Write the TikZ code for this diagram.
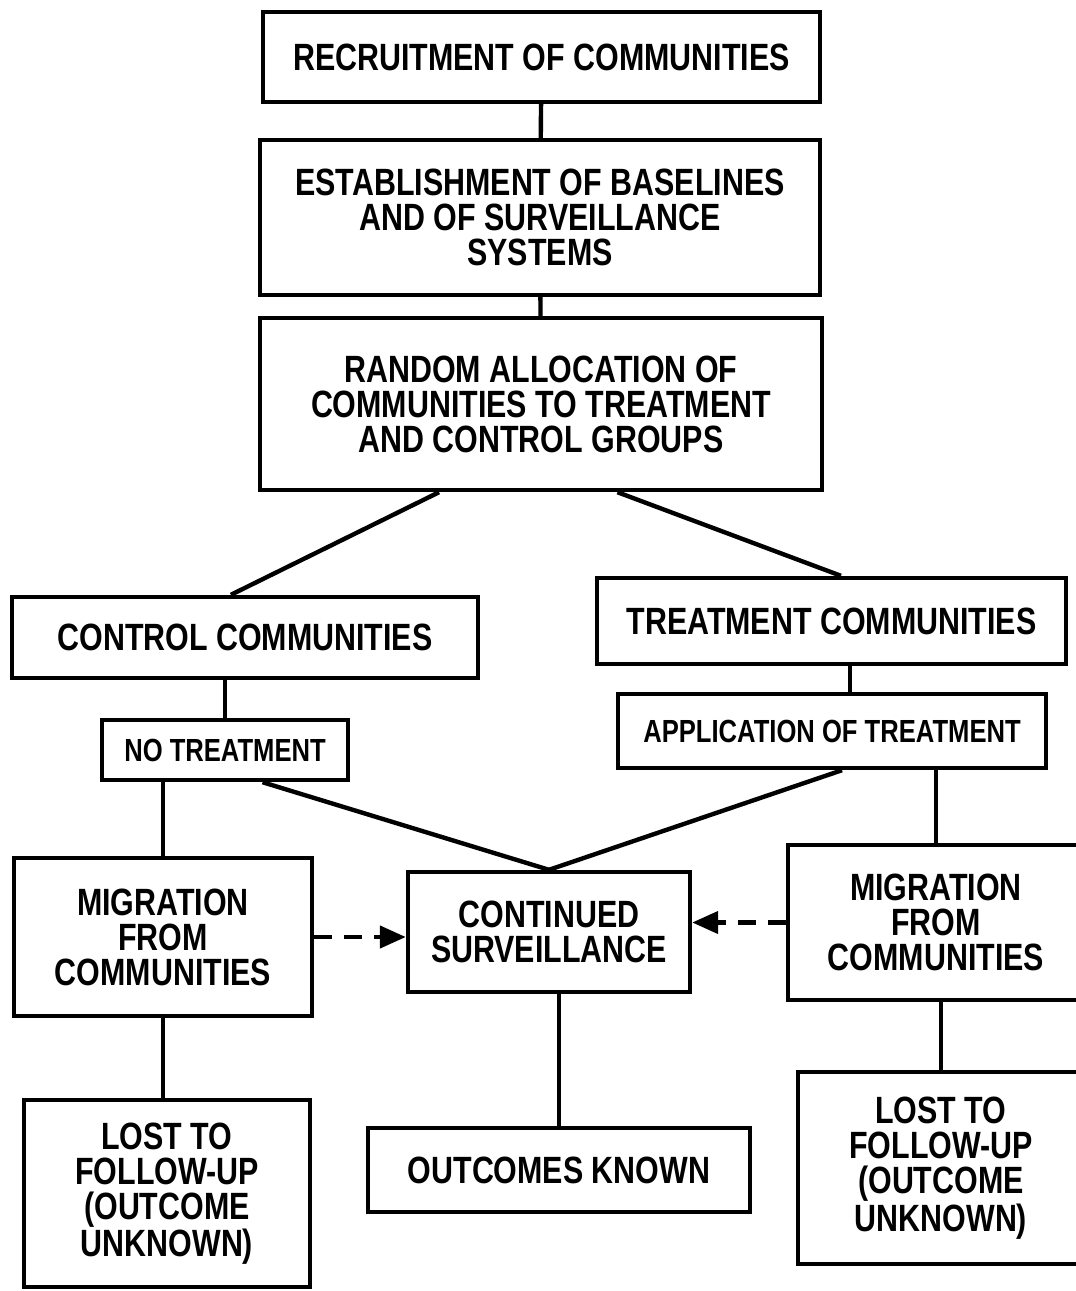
\documentclass[tikz,border=0pt]{standalone}
\usepackage{fontspec}
\usepackage{tikz}
\usetikzlibrary{calc,arrows.meta}
\newfontfamily\boxfont[FakeStretch=0.8]{Liberation Sans}

\tikzset{
  box/.style={draw,line width=2.2pt,align=center,inner sep=0pt,
    font=\boxfont\bfseries\fontsize{19pt}{17.5pt}\selectfont},
  smallbox/.style={box,font=\boxfont\bfseries\fontsize{16pt}{16pt}\selectfont},
  link/.style={line width=2.2pt},
  migrate/.style={line width=2.2pt,dash pattern=on 9pt off 6pt,
    -{Triangle[length=13pt,width=11pt]}}
}

\begin{document}
\begin{tikzpicture}[x=0.5pt,y=-0.5pt]
\useasboundingbox[fill=white] (0,0) rectangle (1076,1291);
\clip (0,0) rectangle (1076,1291);
\node (recruit) at (541.5,57) [box,minimum width=278.5pt,minimum height=45pt] {RECRUITMENT OF COMMUNITIES};
\node (establish) at (540,217.5) [box,minimum width=280pt,minimum height=77.5pt] {ESTABLISHMENT OF BASELINES\\AND OF SURVEILLANCE\\SYSTEMS};
\node (random) at (541,404) [box,minimum width=281pt,minimum height=86pt] {RANDOM ALLOCATION OF\\COMMUNITIES TO TREATMENT\\AND CONTROL GROUPS};
\node (control) at (245,637.5) [box,minimum width=233pt,minimum height=40.5pt] {CONTROL COMMUNITIES};
\node (treatment) at (831.5,621) [box,minimum width=234.5pt,minimum height=43pt] {TREATMENT COMMUNITIES};
\node (notreat) at (225,750) [smallbox,minimum width=123pt,minimum height=30pt] {NO TREATMENT};
\node (apply) at (832,731) [smallbox,minimum width=214pt,minimum height=37pt] {APPLICATION OF TREATMENT};
\node (migleft) at (163,937) [box,minimum width=149pt,minimum height=79pt] {MIGRATION\\FROM\\COMMUNITIES};
\node (surv) at (549,932) [box,minimum width=141pt,minimum height=60pt] {CONTINUED\\SURVEILLANCE};
\node (migright) at (936,922.5) [box,minimum width=148pt,minimum height=77.5pt] {MIGRATION\\FROM\\COMMUNITIES};
\node (lostleft) at (167,1193.5) [box,minimum width=143pt,minimum height=93.5pt] {LOST TO\\FOLLOW-UP\\(OUTCOME\\UNKNOWN)};
\node (outcomes) at (559,1170) [box,minimum width=191pt,minimum height=42pt] {OUTCOMES KNOWN};
\node (lostright) at (941,1168) [box,minimum width=143pt,minimum height=96pt] {LOST TO\\FOLLOW-UP\\(OUTCOME\\UNKNOWN)};

\coordinate (split1) at ($(random.south west)!0.32!(random.south east)$);
\coordinate (split2) at ($(random.south west)!0.635!(random.south east)$);
\coordinate (tap) at ([xshift=9pt]apply.north);
\coordinate (nojoin) at ($(notreat.south west)!0.65!(notreat.south east)$);

\draw[link] (recruit) -- (establish);
\draw[link] (establish) -- (random);
\draw[link] (split1) -- ($(control.north west)!0.47!(control.north east)$);
\draw[link] (split2) -- ($(treatment.north west)!0.52!(treatment.north east)$);
\draw[link] (notreat.north) -- (notreat.north |- control.south);
\draw[link] (tap) -- (tap |- treatment.south);
\draw[link] (migleft.north) -- (migleft.north |- notreat.south);
\draw[link] (nojoin) -- (surv.north);
\draw[link] ([xshift=5pt]apply.south) -- (surv.north);
\draw[link] (migright.north) -- (migright.north |- apply.south);
\draw[link] (migleft.south) -- (migleft.south |- lostleft.north);
\draw[link] (outcomes.north) -- (outcomes.north |- surv.south);
\draw[link] (lostright.north) -- (lostright.north |- migright.south);
\draw[migrate] (migleft.east) -- (surv.west |- migleft.east);
\draw[migrate] (migright.west) -- (migright.west -| surv.east);
\end{tikzpicture}
\end{document}
